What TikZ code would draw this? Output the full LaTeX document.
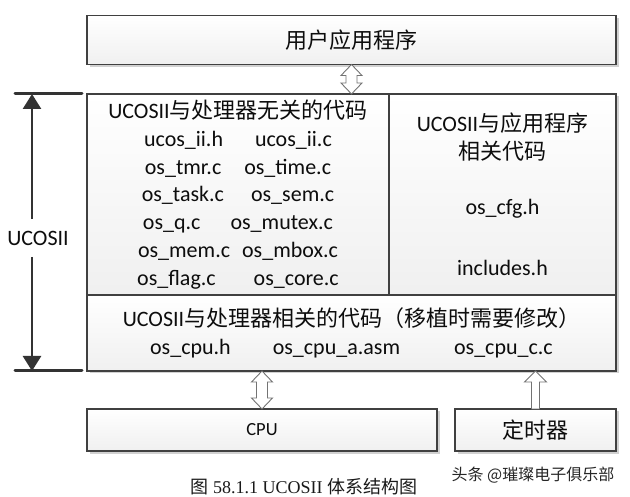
\documentclass[tikz,border=0pt]{standalone}
\usepackage{fontspec}
\setmainfont{Carlito}
\newfontfamily\cjk{Noto Sans CJK SC}
\newfontfamily\capfont{Liberation Serif}
\usetikzlibrary{arrows.meta,calc,positioning,shadows}
\newcommand{\zh}[1]{{\cjk #1}}
\newcommand{\hollowboth}[2]{%
	\draw[hollow] (#1) -- ++(10.5,11) -- ++(-5,0) -- ($(#2)+(5.5,-11)$) -- ++(5,0)
	  -- (#2) -- ++(-10.5,-11) -- ++(5,0) -- ($(#1)+(-5.5,11)$) -- ++(-5,0) -- cycle;}
\newcommand{\hollowup}[2]{%
	\draw[hollow] (#1) -- ++(11,11) -- ++(-7,0) -- ($(#2)+(4,0)$) -- ++(-8,0)
	  -- ($(#1)+(-4,11)$) -- ++(-7,0) -- cycle;}
\tikzset{frame/.style={draw=black!75, line width=1.1pt, outer sep=0pt},
         part/.style={frame, top color=white, bottom color=black!6, inner sep=0pt,
           align=center, text=black!95, font=\fontsize{22}{27.8}\selectfont},
         shadowed/.style={drop shadow={shadow xshift=2.5pt, shadow yshift=-2.5pt,
           opacity=.3, fill=black!60}},
         hollow/.style={draw=black!55, fill=white, line width=.9pt},
         bar/.style={draw=black!80, line width=3pt, line cap=round},
         span/.style={draw=black!80, line width=2.6pt,
           -{Triangle[length=15pt,width=18pt]}}}

\begin{document}
\begin{tikzpicture}[x=1pt,y=-1pt]
	\useasboundingbox (0,0) rectangle (630,497);
	\node[part, shadowed, minimum width=529pt, minimum height=49pt] (user)
	  at (351.5,40) {\zh{用户应用程序}};
	\node[frame, shadowed, fill=white, minimum width=529pt, minimum height=277pt] (core)
	  at (351.5,232.5) {};
	\node[part, anchor=north west, minimum width=302pt, minimum height=201pt] (indep)
	  at (core.north west)
	  {UCOSII\zh{与处理器无关的代码}\\
	   ucos\_ii.h\hspace{32pt}ucos\_ii.c\\
	   os\_tmr.c\hspace{23pt}os\_time.c\\
	   os\_task.c\hspace{27pt}os\_sem.c\\
	   os\_q.c\hspace{30pt}os\_mutex.c\\
	   os\_mem.c\hspace{12pt}os\_mbox.c\\
	   os\_flag.c\hspace{38pt}os\_core.c};
	\node[part, anchor=north west, minimum width=227pt, minimum height=201pt] (app)
	  at (indep.north east)
	  {UCOSII\zh{与应用程序}\\ \zh{相关代码}\\[27pt] os\_cfg.h\\[34pt] includes.h};
	\node[part, anchor=north west, minimum width=529pt, minimum height=76pt] (port)
	  at (indep.south west)
	  {UCOSII\zh{与处理器相关的代码（移植时需要修改）}\\
	   os\_cpu.h\hspace{42pt}os\_cpu\_a.asm\hspace{54pt}os\_cpu\_c.c};
	\node[part, shadowed, below right=38pt and 0pt of core.south west,
	  minimum width=350pt, minimum height=42pt, font=\fontsize{18.5}{22}\selectfont]
	  (cpu) {CPU};
	\node[part, shadowed, below left=38pt and 0pt of core.south east,
	  minimum width=161pt, minimum height=42pt] (timer) {\zh{定时器}};
	\hollowboth{user.south}{indep.north -| user.south}
	\hollowboth{port.south -| cpu.north}{cpu.north}
	\hollowup{port.south -| timer.north}{timer.north}
	\coordinate[left=5pt of core.north west] (topR);
	\coordinate[left=72pt of core.north west] (topL);
	\coordinate[left=5pt of core.south west] (botR);
	\coordinate[left=72pt of core.south west] (botL);
	\coordinate[left=55pt of core.north west] (spanT);
	\coordinate[left=55pt of core.south west] (spanB);
	\draw[bar] (topL) -- (topR);
	\draw[bar] (botL) -- (botR);
	\node[text=black!95, font=\fontsize{22}{26}\selectfont, inner xsep=1pt, inner ysep=11.5pt]
	  (ucos) at ($(spanT)!0.5!(spanB)+(6,5.5)$) {UCOSII};
	\draw[span] (ucos.north -| spanT) -- (spanT);
	\draw[span] (ucos.south -| spanT) -- (spanB);
	\node[text=black!85, font=\cjk\fontsize{16}{18}\selectfont] (mark)
	  at (533,475) {头条 @璀璨电子俱乐部};
	\node[text=black!90, font=\capfont\fontsize{18}{21}\selectfont] (cap)
	  at (304,487) {\zh{图} 58.1.1 UCOSII \zh{体系结构图}};
\end{tikzpicture}
\end{document}
